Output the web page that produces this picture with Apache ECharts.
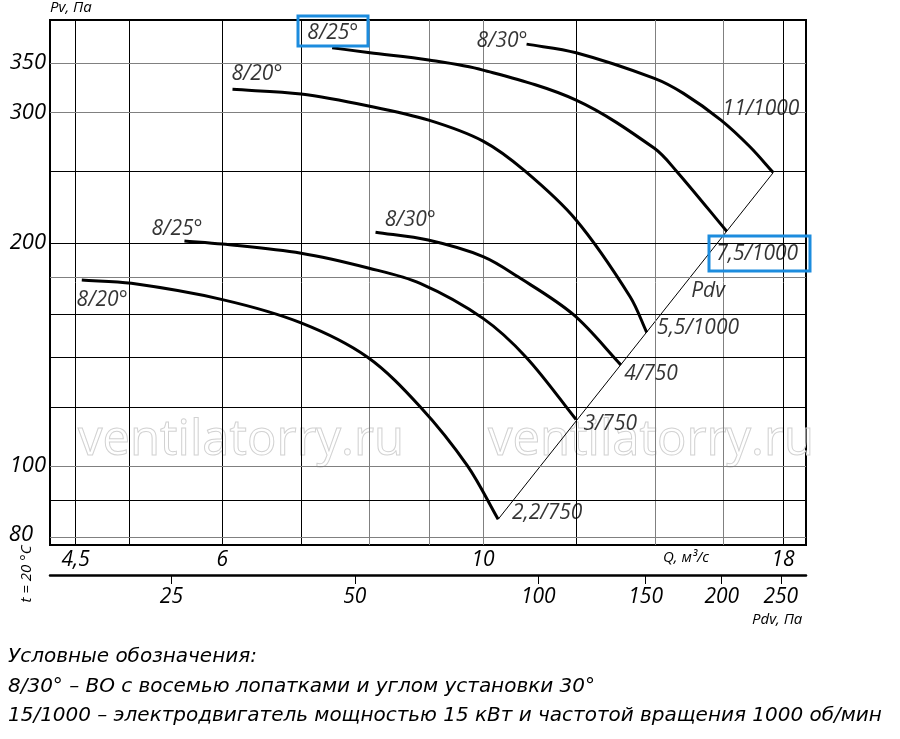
<!DOCTYPE html>
<html>
<head>
<meta charset="utf-8">
<script src="https://cdn.jsdelivr.net/npm/echarts@6/dist/echarts.min.js"></script>
<style>
html, body { margin: 0; padding: 0; background: #fff; }
#chart { width: 900px; height: 739px; }
</style>
</head>
<body>
<div id="chart"></div>
<script>
// оси (Q, м3/с и Pv, Па - логарифм)
var qTicks = [4.5, 6, 10, 18];
var qGrid = [4.5, 5, 6, 7, 8, 9, 10, 12, 14, 16, 18];
var qGridGrey = [8, 9, 10, 14, 16];
var pTicks = [80, 100, 200, 300, 350];
var pGrid = [80, 90, 100, 120, 140, 160, 180, 200, 250, 300, 350];
var pGridGrey = [80, 100, 180, 300, 350];
var pdvTicks = [25, 50, 100, 150, 200, 250];

// кривые: 750 об/мин
var q_20_750 = [4.555, 5.02, 6.0, 7.0, 7.97, 8.84, 9.70, 10.3];
var p_20_750 = [178.2, 176.4, 167.7, 156.0, 140.3, 120.2, 100, 84.7];
var q_25_750 = [5.57, 6.0, 7.0, 8.0, 8.84, 10.0, 10.89, 12.0];
var p_25_750 = [201.2, 199.3, 193.7, 184.9, 176.4, 158.2, 140, 115.5];
var q_30_750 = [8.10, 8.98, 10.0, 10.71, 11.94, 13.1];
var p_30_750 = [206.8, 201.8, 191.7, 180, 160, 136.9];
// кривые: 1000 об/мин
var q_20_1000 = [6.12, 7.0, 8.01, 8.99, 10.0, 10.86, 12.0, 13.34, 13.78];
var p_20_1000 = [322.4, 317.8, 306.0, 293.0, 274.5, 250, 214.8, 169.2, 151.5];
var q_25_1000 = [7.44, 8.01, 8.99, 10.0, 12.0, 13.99, 14.61, 16.12];
var p_25_1000 = [366.9, 361.3, 353.2, 342.3, 311.8, 268.4, 250, 207.4];
var q_30_1000 = [10.89, 12.0, 13.99, 14.81, 15.94, 16.87, 17.66];
var p_30_1000 = [371.1, 361.3, 333.6, 318.4, 293.0, 269.7, 248.9];
// линия Pdv
var q_pdv = [10.3, 17.66];
var p_pdv = [84.7, 248.9];

// подписи
var labelText = ['8/20°', '8/25°', '8/30°', '8/20°', '8/25°', '8/30°', '11/1000', '7,5/1000', 'Pdv', '5,5/1000', '4/750', '3/750', '2,2/750'];
var labelQ = [4.74, 5.49, 8.67, 6.42, 7.45, 10.38, 17.24, 17.11, 15.54, 15.24, 13.9, 12.83, 11.34];
var labelP = [167.5, 208.9, 214.8, 338.1, 384.1, 374.6, 303.3, 193.3, 172.3, 153.6, 133.1, 114.0, 86.4];

var FONT = "'Open Sans', 'Noto Sans', sans-serif";
var LEGFONT = "'DejaVu Sans Condensed', 'Liberation Sans Narrow', sans-serif";

function zip(a, b) {
    var out = [];
    for (var i = 0; i < a.length; i++) out.push([a[i], b[i]]);
    return out;
}
function comma(v) { return String(v).replace('.', ','); }

// плавная кривая через точки (в пикселях)
function splinePath(P) {
    var n = P.length, d = [], t = [], i;
    for (i = 0; i < n - 1; i++) d.push(Math.hypot(P[i + 1][0] - P[i][0], P[i + 1][1] - P[i][1]));
    for (i = 0; i < n; i++) {
        var a = P[Math.max(i - 1, 0)], b = P[Math.min(i + 1, n - 1)];
        var L = (i > 0 ? d[i - 1] : 0) + (i < n - 1 ? d[i] : 0);
        t.push([(b[0] - a[0]) / L, (b[1] - a[1]) / L]);
    }
    var s = 'M' + P[0][0] + ' ' + P[0][1];
    for (i = 0; i < n - 1; i++) {
        var k = d[i] / 3;
        s += ' C' + (P[i][0] + t[i][0] * k) + ' ' + (P[i][1] + t[i][1] * k) + ' ' +
            (P[i + 1][0] - t[i + 1][0] * k) + ' ' + (P[i + 1][1] - t[i + 1][1] * k) + ' ' +
            P[i + 1][0] + ' ' + P[i + 1][1];
    }
    return s;
}

function curve(q, p) {
    var pts = zip(q, p);
    return {
        type: 'custom',
        coordinateSystem: 'cartesian2d',
        data: pts,
        encode: { x: 0, y: 1 },
        silent: true,
        clip: false,
        z: 5,
        renderItem: function (params, api) {
            if (params.dataIndex !== 0) return null;
            var px = pts.map(function (d) { return api.coord(d); });
            return {
                type: 'path',
                shape: { pathData: splinePath(px) },
                style: { fill: 'none', stroke: '#000', lineWidth: 3 }
            };
        }
    };
}

var gridLines = [];
qGrid.forEach(function (v) {
    gridLines.push({ xAxis: v, lineStyle: { color: qGridGrey.indexOf(v) >= 0 ? '#808080' : '#000', width: 1, type: 'solid' } });
});
pGrid.forEach(function (v) {
    gridLines.push({ yAxis: v, lineStyle: { color: pGridGrey.indexOf(v) >= 0 ? '#808080' : '#000', width: 1, type: 'solid' } });
});

var labelData = [];
for (var i = 0; i < labelText.length; i++) labelData.push([labelQ[i], labelP[i], labelText[i]]);

function legendLine(txt, y) {
    return {
        type: 'text', x: 8, y: y, scaleX: 1.11,
        style: { text: txt, x: 0, y: 0, textVerticalAlign: 'middle', font: 'italic 20px ' + LEGFONT, fill: '#000' }
    };
}
function watermark(x) {
    return {
        type: 'text', z: 1, silent: true,
        style: { text: 'ventilatorry.ru', x: x, y: 466, textVerticalAlign: 'bottom', font: '49px ' + FONT, fill: 'transparent', stroke: '#d2d2d2', lineWidth: 1 }
    };
}

var dom = document.getElementById('chart');
var myChart = echarts.init(dom);
var option = {
    backgroundColor: '#fff',
    animation: false,
    grid: {
        left: 50, top: 20, width: 756, height: 525,
        show: true, borderColor: '#000', borderWidth: 2, backgroundColor: 'transparent'
    },
    xAxis: [{
        type: 'log', logBase: 10, min: 4.28, max: 18.83,
        position: 'bottom',
        axisLine: { show: false },
        axisTick: { show: false },
        splitLine: { show: false },
        minorSplitLine: { show: false },
        axisLabel: {
            customValues: qTicks, formatter: comma, margin: 5,
            fontSize: 21, fontStyle: 'italic', fontFamily: FONT, color: '#000'
        }
    }, {
        type: 'log', logBase: 10, min: 15.8, max: 275,
        position: 'bottom', offset: 30,
        axisLine: { show: true, onZero: false, lineStyle: { color: '#000', width: 2.5 } },
        axisTick: { show: true, customValues: pdvTicks, length: 9, lineStyle: { color: '#000', width: 1 } },
        splitLine: { show: false },
        axisLabel: {
            customValues: pdvTicks, margin: 12,
            fontSize: 21, fontStyle: 'italic', fontFamily: FONT, color: '#000'
        }
    }],
    yAxis: {
        type: 'log', logBase: 10, min: 78.2, max: 400,
        name: 'Pv, Па', nameLocation: 'end', nameGap: 5,
        nameTextStyle: { align: 'left', fontSize: 15, fontStyle: 'italic', fontFamily: FONT, color: '#000' },
        axisLine: { show: false },
        axisTick: { show: false },
        splitLine: { show: false },
        axisLabel: {
            customValues: pTicks, margin: 4,
            formatter: function (v) { return v === 80 ? '{e|80}' : String(v); },
            rich: { e: { padding: [0, 13, 6, 0], fontSize: 22, fontStyle: 'italic', fontFamily: FONT, color: '#000' } },
            fontSize: 22, fontStyle: 'italic', fontFamily: FONT, color: '#000'
        }
    },
    graphic: [
        watermark(78),
        watermark(488),
        { type: 'rect', z: 100, shape: { x: 298, y: 16, width: 70, height: 30 }, style: { fill: 'none', stroke: '#1C8CDE', lineWidth: 3 } },
        { type: 'rect', z: 100, shape: { x: 709, y: 236, width: 101, height: 35 }, style: { fill: 'none', stroke: '#1C8CDE', lineWidth: 3 } },
        { type: 'text', style: { text: 'Q, м³/с', x: 663, y: 558, textVerticalAlign: 'middle', font: 'italic 15px ' + FONT, fill: '#000' } },
        { type: 'text', style: { text: 'Pdv, Па', x: 752, y: 620, textVerticalAlign: 'middle', font: 'italic 15px ' + FONT, fill: '#000' } },
        { type: 'text', x: 27, y: 574, rotation: Math.PI / 2, style: { text: 't = 20 °C', x: 0, y: 0, textAlign: 'center', textVerticalAlign: 'middle', font: 'italic 15px ' + FONT, fill: '#000' } },
        legendLine('Условные обозначения:', 657),
        legendLine('8/30° – ВО с восемью лопатками и углом установки 30°', 687),
        legendLine('15/1000 – электродвигатель мощностью 15 кВт и частотой вращения 1000 об/мин', 716)
    ],
    series: [{
        type: 'line',
        data: [],
        silent: true,
        markLine: {
            silent: true,
            symbol: ['none', 'none'],
            label: { show: false },
            animation: false,
            data: gridLines
        }
    },
    curve(q_20_750, p_20_750),
    curve(q_25_750, p_25_750),
    curve(q_30_750, p_30_750),
    curve(q_20_1000, p_20_1000),
    curve(q_25_1000, p_25_1000),
    curve(q_30_1000, p_30_1000),
    {
        type: 'line',
        data: zip(q_pdv, p_pdv),
        symbol: 'none',
        silent: true,
        z: 4,
        lineStyle: { color: '#000', width: 1 }
    }, {
        type: 'scatter',
        data: labelData,
        symbolSize: 1,
        silent: true,
        z: 10,
        itemStyle: { color: 'rgba(0,0,0,0)' },
        label: {
            show: true, position: 'inside',
            formatter: function (p) { return p.data[2]; },
            fontSize: 21, fontStyle: 'italic', fontFamily: FONT, color: '#000'
        }
    }]
};
myChart.setOption(option);
window.onresize = myChart.resize;
</script>
</body>
</html>
